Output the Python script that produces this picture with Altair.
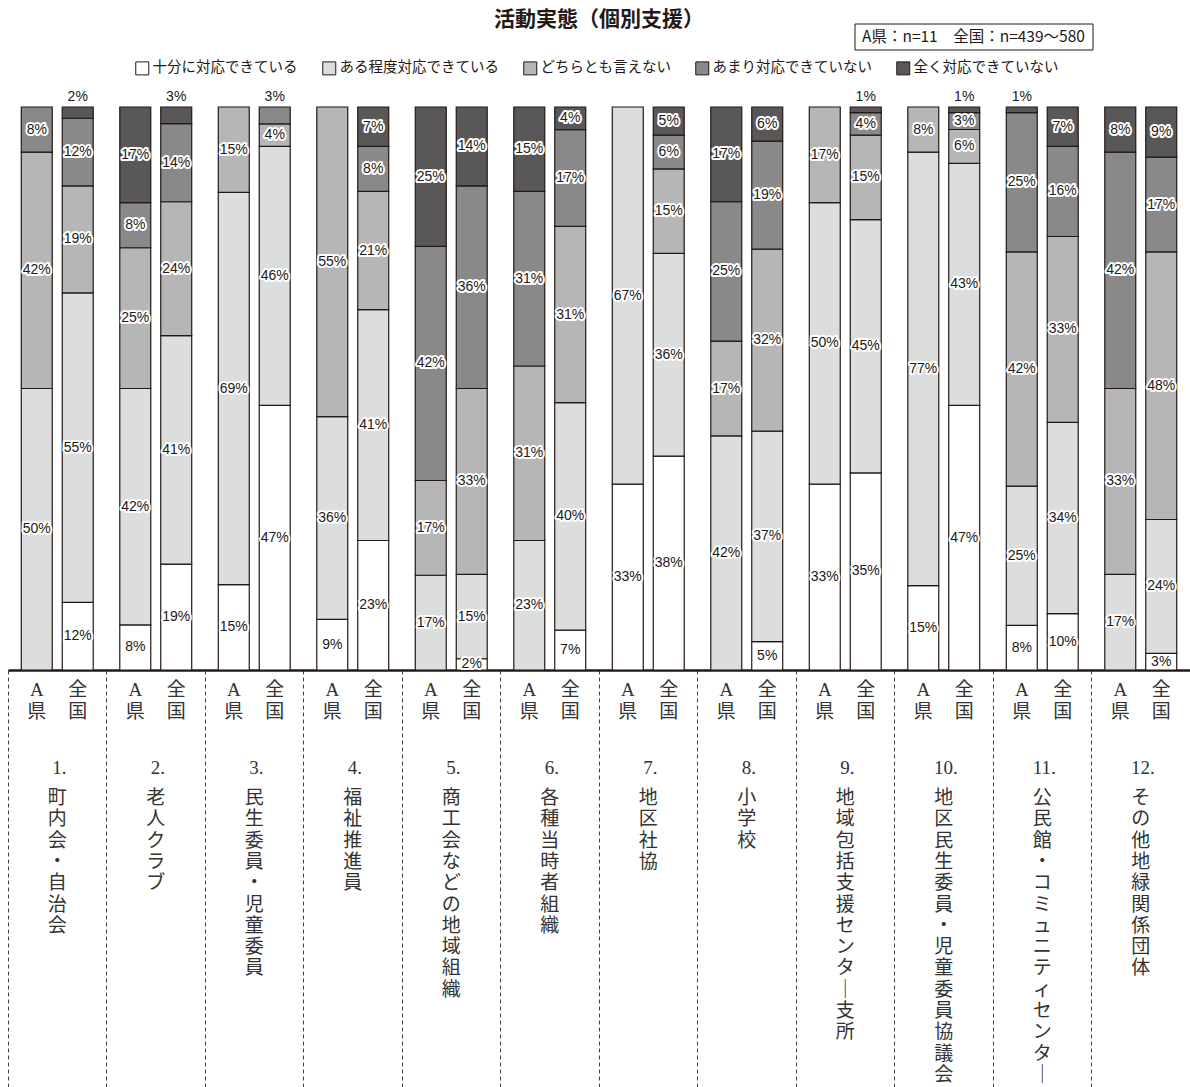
import altair as alt
import pandas as pd

title_text = "活動実態（個別支援）"
note_text = "A県：n=11　全国：n=439〜580"

group_nums = ["1.", "2.", "3.", "4.", "5.", "6.", "7.", "8.", "9.", "10.", "11.", "12."]
group_names = [
    "町内会・自治会", "老人クラブ", "民生委員・児童委員", "福祉推進員",
    "商工会などの地域組織", "各種当時者組織", "地区社協", "小学校",
    "地域包括支援センター支所", "地区民生委員・児童委員協議会",
    "公民館・コミュニティセンター", "その他地緑関係団体",
]
regions = ["A県", "全国"]
categories = ["十分に対応できている", "ある程度対応できている", "どちらとも言えない",
              "あまり対応できていない", "全く対応できていない"]
colors = ["#ffffff", "#dcdddd", "#b5b6b5", "#898989", "#595757"]

# values per bar: group 1 A県, group 1 全国, group 2 A県, ...
juubun  = [0, 12,  8, 19, 15, 47,  9, 23,  0,  2,  0,  7, 33, 38,  0,  5, 33, 35, 15, 47,  8, 10,  0,  3]
aru     = [50, 55, 42, 41, 69, 46, 36, 41, 17, 15, 23, 40, 67, 36, 42, 37, 50, 45, 77, 43, 25, 34, 17, 24]
dochira = [42, 19, 25, 24, 15,  4, 55, 21, 17, 33, 31, 31,  0, 15, 17, 32, 17, 15,  8,  6, 42, 33, 33, 48]
amari   = [8, 12,  8, 14,  0,  3,  0,  8, 42, 36, 31, 17,  0,  6, 25, 19,  0,  4,  0,  3, 25, 16, 42, 17]
mattaku = [0,  2, 17,  3,  0,  0,  0,  7, 25, 14, 15,  4,  0,  5, 17,  6,  0,  1,  0,  1,  1,  7,  8,  9]
series = [juubun, aru, dochira, amari, mattaku]

vert_forms = {"ー": "｜"}

rows = []
for g in range(len(group_names)):
    for r, reg in enumerate(regions):
        for c, cat in enumerate(categories):
            rows.append(dict(gid=g, region=reg, cat=cat, order=c, value=series[c][g * 2 + r]))
df = pd.DataFrame(rows)

reg_df = pd.DataFrame([dict(gid=g, region=reg, rlabel="\n".join(reg))
                       for g in range(len(group_names)) for reg in regions])
grp_df = pd.DataFrame([dict(gid=g, num=group_nums[g],
                            vname="\n".join(vert_forms.get(ch, ch) for ch in group_names[g]))
                       for g in range(len(group_names))])
note_df = pd.DataFrame({"note": [note_text]})

INK = "#231815"
SANS = "Liberation Sans, Arial, sans-serif"
JP = "Noto Sans CJK JP"
SERIF = "Liberation Serif, Noto Sans CJK JP"

xenc = alt.X("gid:O", scale=alt.Scale(paddingInner=0, paddingOuter=0),
             axis=alt.Axis(title=None, labels=False, grid=False, domain=True,
                           domainColor=INK, domainWidth=2.5, ticks=True, tickSize=417,
                           tickDash=[4, 3], tickColor="#444444", tickWidth=1,
                           bandPosition=0))
xoff = alt.XOffset("region:N", scale=alt.Scale(domain=regions, paddingInner=0.244,
                                               paddingOuter=0.3245))

base = (alt.Chart(df)
        .transform_joinaggregate(total="sum(value)", groupby=["gid", "region"])
        .transform_calculate(pct="datum.value / datum.total")
        .transform_stack(stack="pct", groupby=["gid", "region"], as_=["y0", "y1"],
                         sort=[alt.SortField("order", order="ascending")])
        .transform_calculate(mid="(datum.y0 + datum.y1) / 2", lab='datum.value + "%"'))

bars = base.transform_filter("datum.value > 0").mark_bar(stroke=INK, strokeWidth=1.2).encode(
    x=xenc, xOffset=xoff,
    y=alt.Y("y0:Q", scale=alt.Scale(domain=[0, 1]), axis=None),
    y2="y1:Q",
    color=alt.Color("cat:N", scale=alt.Scale(domain=categories, range=colors),
                    legend=alt.Legend(title=None, orient="none", legendX=127, legendY=-46,
                                      direction="horizontal", symbolType="square",
                                      symbolSize=169, symbolStrokeColor=INK,
                                      symbolStrokeWidth=1, labelFont=JP, labelFontSize=14.5,
                                      labelColor=INK, labelOffset=3, columnPadding=22)),
)

inside = base.transform_filter("datum.value > 0 && !(datum.y1 > 0.999 && datum.value <= 3)")
halo = inside.mark_text(font=SANS, fontSize=14, fill="white", stroke="white",
                        strokeWidth=4, strokeJoin="round").encode(
    x=xenc, xOffset=xoff, y="mid:Q", text="lab:N")
front = inside.mark_text(font=SANS, fontSize=14, color=INK).encode(
    x=xenc, xOffset=xoff, y="mid:Q", text="lab:N")
above = base.transform_filter("datum.value > 0 && datum.y1 > 0.999 && datum.value <= 3").mark_text(
    font=SANS, fontSize=14, color=INK, dy=-10).encode(
    x=xenc, xOffset=xoff, y="y1:Q", text="lab:N")

reg_text = alt.Chart(reg_df).mark_text(font=SERIF, fontSize=19, lineBreak="\n", lineHeight=22,
                                       baseline="top", dy=11, color="#333333").encode(
    x=xenc, xOffset=xoff, y=alt.datum(0), text="rlabel:N")
num_text = alt.Chart(grp_df).mark_text(font=SERIF, fontSize=19, baseline="top", dy=89,
                                       dx=2, color="#333333").encode(
    x=xenc, y=alt.datum(0), text="num:N")
name_text = alt.Chart(grp_df).mark_text(font=SERIF, fontSize=19, lineBreak="\n", lineHeight=21.3,
                                        baseline="top", dy=119, color="#333333").encode(
    x=xenc, y=alt.datum(0), text="vname:N")

note_box = alt.Chart(note_df).mark_rect(fill="white", stroke=INK, strokeWidth=1).encode(
    x=alt.value(847), x2=alt.value(1085), y=alt.value(-83), y2=alt.value(-57))
note_txt = alt.Chart(note_df).mark_text(font=JP, fontSize=15.5, align="left", baseline="middle",
                                        color=INK).encode(
    x=alt.value(854), y=alt.value(-70), text="note:N")

chart = alt.layer(bars, halo, front, above, reg_text, num_text, name_text, note_box, note_txt).properties(
    width=1182, height=563,
    padding={"left": 8, "top": 107, "right": 0, "bottom": 417},
    autosize=alt.AutoSizeParams(type="none"),
    title=alt.TitleParams(title_text, font=JP, fontSize=21, fontWeight="bold", color=INK,
                          anchor="middle", offset=0, dy=6),
    background="white",
).configure_view(stroke=None)

chart.save("out.html", embed_options={"renderer": "svg", "actions": False})
